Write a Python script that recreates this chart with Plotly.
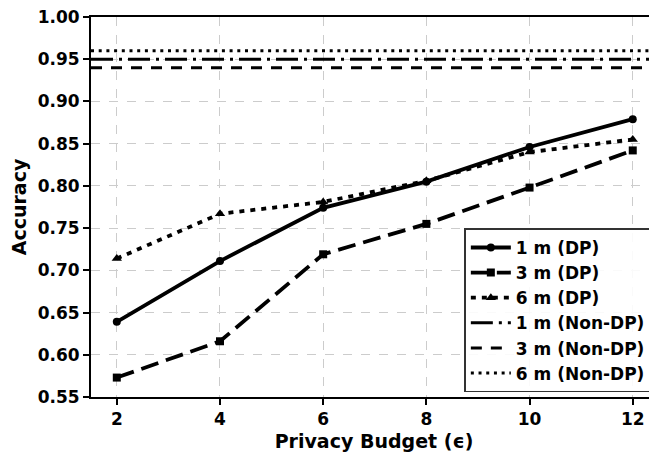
import plotly.graph_objects as go

budgets = [2, 4, 6, 8, 10, 12]
acc_1m_dp = [0.639, 0.711, 0.774, 0.805, 0.846, 0.879]
acc_3m_dp = [0.573, 0.616, 0.719, 0.755, 0.798, 0.842]
acc_6m_dp = [0.714, 0.767, 0.781, 0.806, 0.840, 0.855]
acc_1m_nondp = 0.950
acc_3m_nondp = 0.940
acc_6m_nondp = 0.960
x_span = [1.5, 12.5]

fig = go.Figure()
fig.add_trace(go.Scatter(x=budgets, y=acc_1m_dp, name="1 m (DP)", mode="lines+markers",
                         line=dict(color="black", width=3.8, dash="solid"),
                         marker=dict(symbol="circle", size=8, color="black")))
fig.add_trace(go.Scatter(x=budgets, y=acc_3m_dp, name="3 m (DP)", mode="lines+markers",
                         line=dict(color="black", width=3.8, dash="18px,8px"),
                         marker=dict(symbol="square", size=8, color="black")))
fig.add_trace(go.Scatter(x=budgets, y=acc_6m_dp, name="6 m (DP)", mode="lines+markers",
                         line=dict(color="black", width=3.8, dash="5px,6px"),
                         marker=dict(symbol="triangle-up", size=9, color="black")))
fig.add_trace(go.Scatter(x=x_span, y=[acc_1m_nondp] * 2, name="1 m (Non-DP)", mode="lines",
                         line=dict(color="black", width=3, dash="22px,6px,3px,6px")))
fig.add_trace(go.Scatter(x=x_span, y=[acc_3m_nondp] * 2, name="3 m (Non-DP)", mode="lines",
                         line=dict(color="black", width=3, dash="11px,9px")))
fig.add_trace(go.Scatter(x=x_span, y=[acc_6m_nondp] * 2, name="6 m (Non-DP)", mode="lines",
                         line=dict(color="black", width=3, dash="3px,4.7px")))

font_bold = dict(family="DejaVu Sans", size=17, color="black", weight="bold")
title_font = dict(family="DejaVu Sans", size=19, color="black", weight="bold")

fig.update_layout(
    width=649, height=450,
    margin=dict(l=83, r=0, t=9, b=61),
    paper_bgcolor="white", plot_bgcolor="white",
    showlegend=True,
    legend=dict(x=0.99, y=0.012, xanchor="right", yanchor="bottom",
                bgcolor="rgba(255,255,255,0.9)", bordercolor="#333", borderwidth=1.5,
                font=dict(family="DejaVu Sans", size=17, color="black", weight="bold"),
                tracegroupgap=0, itemwidth=40),
    xaxis=dict(range=[1.5, 12.47], tickvals=budgets, ticktext=[str(b) for b in budgets],
               showline=True, linecolor="black", linewidth=2, mirror=True,
               ticks="outside", ticklen=6, tickwidth=2, tickcolor="black",
               showgrid=True, gridcolor="#cccccc", griddash="dash", gridwidth=1,
               zeroline=False, tickfont=font_bold, ticklabeloverflow="allow",
               title=dict(text="Privacy Budget (ϵ)", standoff=6, font=title_font)),
    yaxis=dict(range=[0.55, 1.00], tickvals=[0.55, 0.60, 0.65, 0.70, 0.75, 0.80, 0.85, 0.90, 0.95, 1.00],
               tickformat=".2f",
               showline=True, linecolor="black", linewidth=2,
               ticks="outside", ticklen=6, tickwidth=2, tickcolor="black",
               showgrid=True, gridcolor="#cccccc", griddash="dash", gridwidth=1,
               zeroline=False, tickfont=font_bold, ticklabeloverflow="allow",
               title=dict(text="Accuracy", standoff=6, font=title_font)),
)

fig.write_html("out.html")
